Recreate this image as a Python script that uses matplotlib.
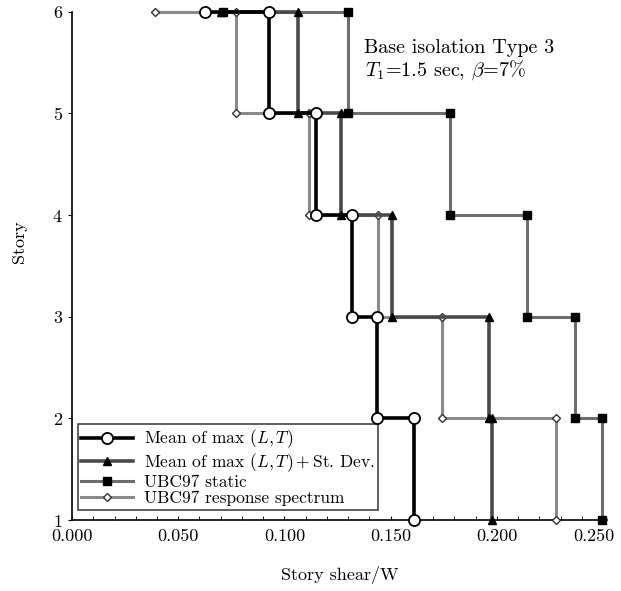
import numpy as np
import matplotlib
matplotlib.use("Agg")
import matplotlib.pyplot as plt
import matplotlib.transforms as mtrans
from matplotlib.ticker import MultipleLocator, FuncFormatter

plt.rcParams['font.family'] = ['cmr10', 'DejaVu Serif']
plt.rcParams['mathtext.fontset'] = 'cm'
plt.rcParams['axes.formatter.use_mathtext'] = True

# story levels, top to bottom
stories = [6, 5, 4, 3, 2, 1]

# first point at roof level, then story shear of stories 6..2 (vertical segments)
mean_top = 0.0625
mean_shear = [0.0926, 0.1147, 0.1316, 0.1438, 0.1612]

mean_sd_top = 0.070
mean_sd_shear = [0.1062, 0.1265, 0.1505, 0.1962, 0.1975]

static_top = 0.0711
static_shear = [0.1300, 0.1780, 0.2140, 0.2370, 0.2495]

rs_top = 0.039
rs_shear = [0.0773, 0.1114, 0.1440, 0.1740, 0.2280]


def steps(top, shear):
    # build the staircase vertices
    xs, ys = [top], [stories[0]]
    for i, v in enumerate(shear):
        xs += [v, v]
        ys += [stories[i], stories[i + 1]]
    return xs, ys


fig = plt.figure(figsize=(6.21, 5.91), dpi=100)
ax = fig.add_axes([0.116, 0.120, 0.862, 0.860])

x, y = steps(rs_top, rs_shear)
ax.plot(x, y, color='#8a8a8a', lw=2.2, marker='D', ms=4.5, mfc='white', mec='#333333',
        mew=1.0, clip_on=False, zorder=3, label='UBC97 response spectrum')
x, y = steps(static_top, static_shear)
ax.plot(x, y, color='#6e6e6e', lw=2.2, marker='s', ms=6, mfc='black', mec='black',
        clip_on=False, zorder=4, label='UBC97 static')
x, y = steps(mean_sd_top, mean_sd_shear)
ax.plot(x, y, color='#4a4a4a', lw=2.6, marker='^', ms=6, mfc='black', mec='black',
        clip_on=False, zorder=5, label=r'Mean of max $(L,T)+$St. Dev.')
x, y = steps(mean_top, mean_shear)
ax.plot(x, y, color='black', lw=2.6, marker='o', ms=8, mfc='white', mec='black',
        mew=1.3, clip_on=False, zorder=6, label=r'Mean of max $(L,T)$')

x_max = 0.25
ax.set_xlim(0, 0.252)
ax.set_ylim(1, 6)
ax.xaxis.set_major_locator(MultipleLocator(0.05))
ax.xaxis.set_minor_locator(MultipleLocator(0.01))
# the last label is placed by hand so it does not run off the figure
ax.xaxis.set_major_formatter(FuncFormatter(
    lambda v, p: '' if abs(v - x_max) < 1e-6 else '%.3f' % v))
ax.yaxis.set_major_locator(MultipleLocator(1))
ax.tick_params(axis='x', which='both', direction='in', length=3, labelsize=13, pad=6)
ax.tick_params(axis='y', which='both', direction='out', length=3, labelsize=13)
for s in ['top', 'right']:
    ax.spines[s].set_visible(False)
ax.spines['left'].set_linewidth(1.2)
ax.spines['bottom'].set_linewidth(1.2)

shift = mtrans.ScaledTranslation(-9 / 100, -9 / 100, fig.dpi_scale_trans)
ax.text(x_max, 0, '%.3f' % x_max, fontsize=13, ha='center', va='top',
        transform=ax.get_xaxis_transform() + shift)

ax.set_xlabel('Story shear/W', fontsize=13, labelpad=16)
ax.set_ylabel('Story', fontsize=13)
ax.yaxis.set_label_coords(-0.085, 0.547)

ax.text(0.545, 0.929, 'Base isolation Type 3', transform=ax.transAxes, fontsize=14.5,
        va='center')
ax.text(0.547, 0.886, r'$T_1$=1.5 sec, $\beta$=7%', transform=ax.transAxes,
        fontsize=14.5, va='center')

handles, labels = ax.get_legend_handles_labels()
leg = ax.legend(handles[::-1], labels[::-1], loc='lower left',
                bbox_to_anchor=(0.011, 0.02), borderaxespad=0, fontsize=12.5,
                fancybox=False, edgecolor='#444444', framealpha=1, handlelength=3.0,
                borderpad=0.2, labelspacing=0.05, handletextpad=0.6)
leg.get_frame().set_linewidth(1.2)

fig.savefig('out.png', dpi=100)
